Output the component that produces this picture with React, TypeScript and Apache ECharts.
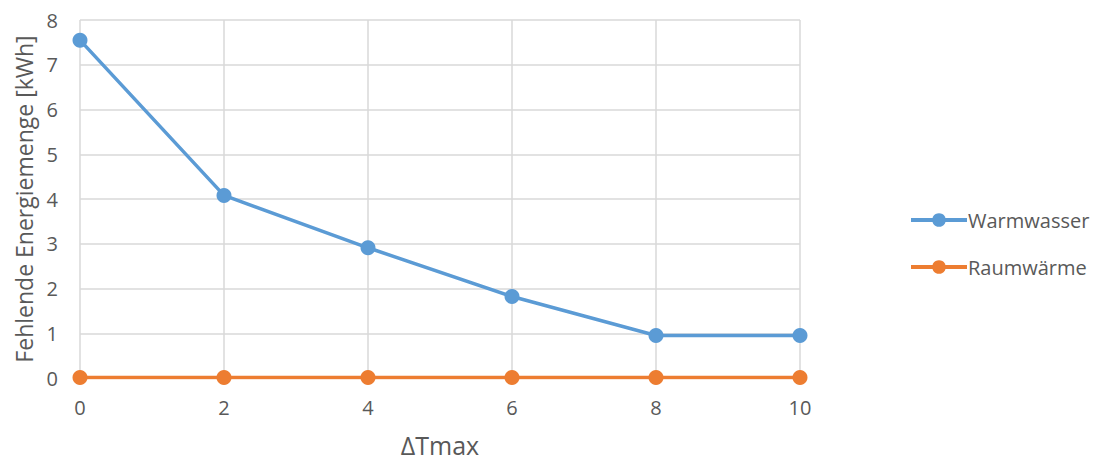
import React, { useEffect, useRef } from "react";
import * as echarts from "echarts";

const xValues = [0, 2, 4, 6, 8, 10];
const warmwasser = [7.55, 4.08, 2.91, 1.82, 0.95, 0.95];
const raumwaerme = [0.01, 0.01, 0.01, 0.01, 0.01, 0.01];
const seriesNames = ["Warmwasser", "Raumwärme"];
const colors = ["#5b9bd5", "#ed7d31"];

const font = "'Open Sans', 'Liberation Sans', sans-serif";

export default function App() {
  const ref = useRef<HTMLDivElement>(null);
  useEffect(() => {
    if (!ref.current) return;
    const chart = echarts.init(ref.current, undefined, { renderer: "svg" });
    const mk = (vals: number[]) => xValues.map((x, i) => [x, vals[i]]);
    chart.setOption({
      animation: false,
      textStyle: { fontFamily: font },
      grid: { left: 80, right: 297, top: 20, bottom: 81, containLabel: false },
      legend: {
        orient: "vertical",
        left: 904,
        top: 204,
        itemWidth: 56,
        itemHeight: 17,
        itemGap: 25,
        data: seriesNames,
        lineStyle: { width: 4 },
        textStyle: { color: "#595959", fontSize: 20, lineHeight: 22, fontFamily: font, padding: [0, 0, 0, -4] },
      },
      xAxis: {
        type: "value",
        min: 0,
        max: 10,
        interval: 2,
        name: "ΔTmax",
        nameLocation: "middle",
        nameGap: 54,
        nameTextStyle: { color: "#595959", fontSize: 25, fontFamily: font },
        axisLine: { show: false },
        axisTick: { show: false },
        axisLabel: { color: "#595959", fontSize: 20, margin: 19, fontFamily: font },
        splitLine: { show: true, lineStyle: { color: "#d9d9d9", width: 1.5 } },
      },
      yAxis: {
        type: "value",
        min: 0,
        max: 8,
        interval: 1,
        name: "Fehlende Energiemenge [kWh]",
        nameLocation: "middle",
        nameGap: 45,
        nameTextStyle: { color: "#595959", fontSize: 23, fontFamily: font },
        axisLine: { show: false },
        axisTick: { show: false },
        axisLabel: { color: "#595959", fontSize: 20, margin: 22, fontFamily: font },
        splitLine: { show: true, lineStyle: { color: "#d9d9d9", width: 1.5 } },
      },
      series: [
        {
          name: seriesNames[0],
          type: "line",
          data: mk(warmwasser),
          symbol: "circle",
          symbolSize: 15,
          itemStyle: { color: colors[0] },
          lineStyle: { color: colors[0], width: 3.5 },
        },
        {
          name: seriesNames[1],
          type: "line",
          data: mk(raumwaerme),
          symbol: "circle",
          symbolSize: 15,
          itemStyle: { color: colors[1] },
          lineStyle: { color: colors[1], width: 3.5 },
        },
      ],
    });
    return () => chart.dispose();
  }, []);
  return <div ref={ref} style={{ width: 1097, height: 462, position: "absolute", left: 0, top: 0 }} />;
}
